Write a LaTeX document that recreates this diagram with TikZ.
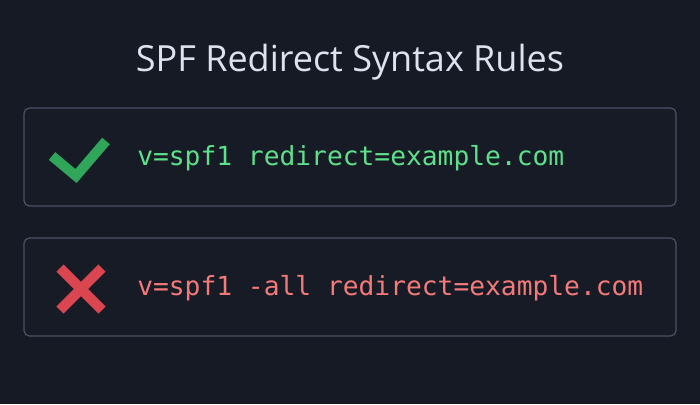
\documentclass[tikz,border=0pt]{standalone}
\usepackage{fontspec}
\setmainfont{Open Sans}
\newfontfamily\codefont{DejaVu Sans Mono}
\definecolor{bg}{HTML}{161A24}
\definecolor{boxfill}{HTML}{171B25}
\definecolor{boxline}{HTML}{4A5263}
\definecolor{titlecol}{HTML}{DDE3EE}
\definecolor{okcol}{HTML}{2FA65A}
\definecolor{oktext}{HTML}{5EE08A}
\definecolor{badcol}{HTML}{D9464F}
\definecolor{badtext}{HTML}{F47A7A}
\tikzset{
  panel/.style={draw=boxline, fill=boxfill, line width=0.9pt, rounded corners=4pt},
  code/.style={anchor=west, font=\codefont\fontsize{19.7}{24}\selectfont, inner sep=0pt},
  symline/.style={line width=7.5pt}
}
\begin{document}
\begin{tikzpicture}[x=0.75pt,y=-0.75pt]
\fill[bg] (0,0) rectangle (700,404);
\useasboundingbox (0,0) rectangle (700,404);
\node[font=\fontsize{27}{32}\selectfont, text=titlecol] (title) at (350,62) {SPF Redirect Syntax Rules};
\draw[panel] (24,108) rectangle (676,206);
\draw[panel] (24,238) rectangle (676,336);
\draw[symline, okcol] (52,156) -- (76,176) -- (106,141);
\draw[symline, badcol] (60,268) -- (102,310);
\draw[symline, badcol] (102,268) -- (60,310);
\node[code, text=oktext] (good) at (137,158) {v=spf1 redirect=example.com};
\node[code, text=badtext] (bad) at (137,288) {v=spf1 -all redirect=example.com};
\end{tikzpicture}
\end{document}
